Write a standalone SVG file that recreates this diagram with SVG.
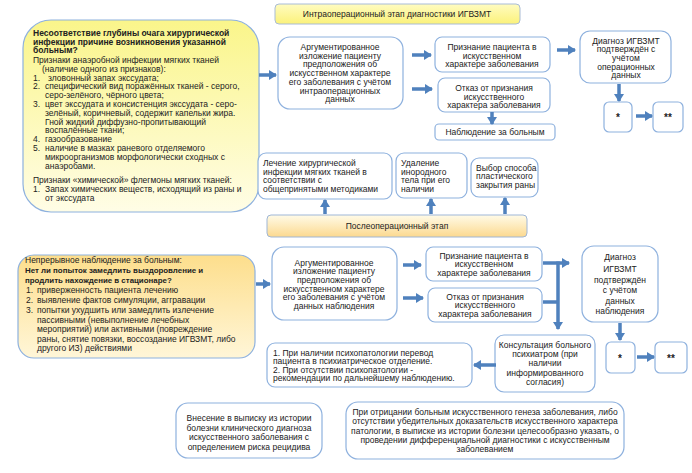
<svg xmlns="http://www.w3.org/2000/svg" width="692" height="473" viewBox="0 0 692 473">
<defs>
<linearGradient id="gY" x1="0" y1="0" x2="0" y2="1"><stop offset="0" stop-color="#faf58a"/><stop offset="1" stop-color="#fffde6"/></linearGradient>
<linearGradient id="gT" x1="0" y1="0" x2="0" y2="1"><stop offset="0" stop-color="#fffcc0"/><stop offset="1" stop-color="#fbf27a"/></linearGradient>
<linearGradient id="gO" x1="0" y1="0" x2="0" y2="1"><stop offset="0" stop-color="#fdde8c"/><stop offset="1" stop-color="#fff6d8"/></linearGradient>
<linearGradient id="gP" x1="0" y1="0" x2="0" y2="1"><stop offset="0" stop-color="#fffbe8"/><stop offset="1" stop-color="#fcd98f"/></linearGradient>
<marker id="ah" markerUnits="userSpaceOnUse" markerWidth="9" markerHeight="10" refX="7" refY="5" orient="auto"><path d="M0,0 L8,5 L0,10 z" fill="#4f81bd"/></marker>
</defs>
<style>
.b{fill:#fff;stroke:#8eb1de;stroke-width:1.2}
.t{font-family:"Liberation Sans",Arial,sans-serif;font-size:8.5px;fill:#222}
.c{text-anchor:middle}
.bd{font-weight:bold}
.st{font-size:10px;font-weight:bold}
.ar{stroke:#4f81bd;stroke-width:3.5;fill:none}
.ah{marker-end:url(#ah)}
</style>
<rect width="692" height="473" fill="#fff"/>

<g id="title1"><rect x="275" y="4" width="245" height="20" rx="4" fill="url(#gT)" stroke="#a9bcd6"/><text class="t c" x="397" y="17">Интраоперационный этап диагностики ИГВЗМТ</text></g>

<g id="box1"><rect x="23" y="20" width="236" height="192" rx="28" fill="url(#gY)" stroke="#8eb1de" stroke-width="1.2"/>
<text class="t bd" font-size="7.4"><tspan x="33" y="36">Несоответствие глубины очага хирургической</tspan><tspan x="33" y="44.5">инфекции причине возникновения указанной</tspan><tspan x="33" y="53">больным?</tspan></text>
<text class="t" font-size="8.8"><tspan x="33" y="63">Признаки анаэробной инфекции мягких тканей</tspan><tspan x="42" y="71.8">(наличие одного из признаков):</tspan>
<tspan x="33" y="80.6">1.</tspan><tspan x="48" y="80.6">зловонный запах экссудата;</tspan>
<tspan x="33" y="89.4">2.</tspan><tspan x="45" y="89.4">специфический вид поражённых тканей - серого,</tspan><tspan x="45" y="98.2">серо-зелёного, чёрного цвета;</tspan>
<tspan x="33" y="107">3.</tspan><tspan x="45" y="107">цвет экссудата и консистенция экссудата - серо-</tspan><tspan x="45" y="115.8">зелёный, коричневый, содержит капельки жира.</tspan><tspan x="45" y="124.6">Гной жидкий диффузно-пропитывающий</tspan><tspan x="45" y="133.4">воспалённые ткани;</tspan>
<tspan x="33" y="142.2">4.</tspan><tspan x="45" y="142.2">газообразование</tspan>
<tspan x="33" y="151">5.</tspan><tspan x="45" y="151">наличие в мазках раневого отделяемого</tspan><tspan x="45" y="159.8">микроорганизмов морфологически сходных с</tspan><tspan x="45" y="168.6">анаэробами.</tspan>
<tspan x="33" y="183">Признаки «химической» флегмоны мягких тканей:</tspan>
<tspan x="33" y="191.8">1.</tspan><tspan x="45" y="191.8">Запах химических веществ, исходящий из раны и</tspan><tspan x="45" y="200.6">от экссудата</tspan></text></g>

<g id="arg1"><rect class="b" x="278" y="37" width="125" height="72" rx="12"/><text class="t c"><tspan x="340" y="50">Аргументированное</tspan><tspan x="340" y="58.7">изложение пациенту</tspan><tspan x="340" y="67.4">предположения об</tspan><tspan x="340" y="76.1">искусственном характере</tspan><tspan x="340" y="84.8">его заболевания с учётом</tspan><tspan x="340" y="93.5">интраоперационных</tspan><tspan x="340" y="102.2">данных</tspan></text></g>

<g id="priz1"><rect class="b" x="435" y="37" width="115" height="35" rx="7"/><text class="t c"><tspan x="492" y="50">Признание пациента в</tspan><tspan x="492" y="58.7">искусственном</tspan><tspan x="492" y="67.4">характере заболевания</tspan></text></g>

<g id="otk1"><rect class="b" x="438" y="78" width="112" height="34" rx="7"/><text class="t c"><tspan x="494" y="91">Отказ от признания</tspan><tspan x="494" y="99.7">искусственного</tspan><tspan x="494" y="108.4">характера заболевания</tspan></text></g>

<g id="nabl"><rect class="b" x="435" y="124" width="120" height="16" rx="4"/><text class="t c" x="495" y="135">Наблюдение за больным</text></g>

<g id="diag1"><rect class="b" x="580" y="31" width="91" height="52" rx="10"/><text class="t c"><tspan x="626" y="43.5">Диагноз ИГВЗМТ</tspan><tspan x="626" y="52.2">подтверждён с</tspan><tspan x="626" y="60.9">учётом</tspan><tspan x="626" y="69.6">операционных</tspan><tspan x="626" y="78.3">данных</tspan></text></g>

<g id="star1"><rect class="b" x="604" y="102" width="28" height="30" rx="5"/><text class="t c st" x="618" y="121">*</text></g>
<g id="star1b"><rect class="b" x="653" y="102" width="30" height="30" rx="5"/><text class="t c st" x="668" y="121">**</text></g>

<g id="lech"><rect class="b" x="258" y="153" width="134" height="46" rx="8"/><text class="t"><tspan x="263" y="166">Лечение хирургической</tspan><tspan x="263" y="174.7">инфекции мягких тканей в</tspan><tspan x="263" y="183.4">соответствии с</tspan><tspan x="263" y="192.1">общепринятыми методиками</tspan></text></g>

<g id="udal"><rect class="b" x="396" y="153" width="71" height="45" rx="8"/><text class="t"><tspan x="401" y="166">Удаление</tspan><tspan x="401" y="174.7">инородного</tspan><tspan x="401" y="183.4">тела при его</tspan><tspan x="401" y="192.1">наличии</tspan></text></g>

<g id="vybor"><rect class="b" x="471" y="158" width="67" height="39" rx="8"/><text class="t"><tspan x="476" y="170.5">Выбор способа</tspan><tspan x="476" y="179.2">пластического</tspan><tspan x="476" y="187.9">закрытия раны</tspan></text></g>

<g id="title2"><rect x="267" y="215" width="260" height="22" rx="4" fill="url(#gP)" stroke="#9fb6d6"/><text class="t c" x="397" y="229">Послеоперационный этап</text></g>

<g id="box2"><rect x="18" y="255" width="237" height="103" rx="16" fill="url(#gO)" stroke="#8eb1de" stroke-width="1.2"/>
<text class="t" font-size="8.8"><tspan x="25" y="263">Непрерывное наблюдение за больным:</tspan>
<tspan x="25" y="273" font-weight="bold" font-size="7.9">Нет ли попыток замедлить выздоровление и</tspan><tspan x="25" y="282.5" font-weight="bold" font-size="7.9">продлить нахождение в стационаре?</tspan>
<tspan x="26" y="293">1.</tspan><tspan x="37" y="293">приверженность пациента лечению</tspan>
<tspan x="26" y="303">2.</tspan><tspan x="37" y="303">выявление фактов симуляции, аггравации</tspan>
<tspan x="26" y="313">3.</tspan><tspan x="37" y="313">попытки ухудшить или замедлить излечение</tspan><tspan x="37" y="322.5">пассивными (невыполнение лечебных</tspan><tspan x="37" y="332">мероприятий) или активными (повреждение</tspan><tspan x="37" y="341.5">раны, снятие повязки, воссоздание ИГВЗМТ, либо</tspan><tspan x="37" y="351">другого ИЗ) действиями</tspan></text></g>

<g id="arg2"><rect class="b" x="272" y="247" width="125" height="73" rx="12"/><text class="t c"><tspan x="334" y="265.5">Аргументированное</tspan><tspan x="334" y="274.2">изложение пациенту</tspan><tspan x="334" y="282.9">предположения об</tspan><tspan x="334" y="291.6">искусственном характере</tspan><tspan x="334" y="300.3">его заболевания с учётом</tspan><tspan x="334" y="309">данных наблюдения</tspan></text></g>

<g id="priz2"><rect class="b" x="426" y="247" width="116" height="34" rx="7"/><text class="t c"><tspan x="484" y="258.5">Признание пациента в</tspan><tspan x="484" y="267.2">искусственном</tspan><tspan x="484" y="275.9">характере заболевания</tspan></text></g>

<g id="otk2"><rect class="b" x="428" y="288" width="114" height="34" rx="7"/><text class="t c"><tspan x="485" y="299.5">Отказ от признания</tspan><tspan x="485" y="308.2">искусственного</tspan><tspan x="485" y="316.9">характера заболевания</tspan></text></g>

<g id="diag2"><rect class="b" x="582" y="246" width="76" height="76" rx="12"/><text class="t c"><tspan x="620" y="260">Диагноз</tspan><tspan x="620" y="272">ИГВЗМТ</tspan><tspan x="620" y="283">подтверждён</tspan><tspan x="620" y="293">с учётом</tspan><tspan x="620" y="304">данных</tspan><tspan x="620" y="314">наблюдения</tspan></text></g>

<g id="star2"><rect class="b" x="606" y="342" width="29" height="31" rx="5"/><text class="t c st" x="620" y="362">*</text></g>
<g id="star2b"><rect class="b" x="655" y="342" width="32" height="31" rx="5"/><text class="t c st" x="671" y="362">**</text></g>

<g id="kons"><rect class="b" x="495" y="335" width="100" height="57" rx="9"/><text class="t c"><tspan x="545" y="348">Консультация больного</tspan><tspan x="545" y="357">психиатром (при</tspan><tspan x="545" y="366">наличии</tspan><tspan x="545" y="375.5">информированного</tspan><tspan x="545" y="385">согласия)</tspan></text></g>

<g id="psych"><rect class="b" x="267" y="343" width="205" height="44" rx="8"/><text class="t" font-size="8"><tspan x="273" y="355.5">1. При наличии психопатологии перевод</tspan><tspan x="273" y="364">пациента в психиатрическое отделение.</tspan><tspan x="273" y="372.5">2. При отсутствии психопатологии -</tspan><tspan x="273" y="381">рекомендации по дальнейшему наблюдению.</tspan></text></g>

<g id="vnes"><rect class="b" x="176" y="403" width="146" height="55" rx="12"/><text class="t c"><tspan x="249" y="421">Внесение в выписку из истории</tspan><tspan x="249" y="430.5">болезни клинического диагноза</tspan><tspan x="249" y="440">искусственного заболевания с</tspan><tspan x="249" y="449.5">определением риска рецидива</tspan></text></g>

<g id="otric"><rect class="b" x="346" y="402" width="278" height="57" rx="12"/><text class="t c"><tspan x="485" y="415">При отрицании больным искусственного генеза заболевания, либо</tspan><tspan x="485" y="424.3">отсутствии убедительных доказательств искусственного характера</tspan><tspan x="485" y="433.6">патологии, в выписке из истории болезни целесообразно указать, о</tspan><tspan x="485" y="442.9">проведении дифференциальной диагностики с искусственным</tspan><tspan x="485" y="452.2">заболеванием</tspan></text></g>

<g id="connectors">
<line class="ar ah" x1="259" y1="75" x2="276" y2="75"/>
<line class="ar ah" x1="412" y1="55" x2="431" y2="55"/>
<line class="ar ah" x1="412" y1="89" x2="432" y2="89"/>
<line class="ar ah" x1="492" y1="112" x2="492" y2="124"/>
<line class="ar ah" x1="557" y1="50" x2="575" y2="50"/>
<line class="ar ah" x1="619" y1="84" x2="619" y2="101"/>
<line class="ar ah" x1="636" y1="116" x2="652" y2="116"/>
<line class="ar ah" x1="325" y1="214" x2="325" y2="200"/>
<line class="ar ah" x1="431" y1="214" x2="431" y2="199"/>
<line class="ar ah" x1="505" y1="214" x2="505" y2="198"/>
<line class="ar ah" x1="256" y1="284" x2="270" y2="284"/>
<line class="ar ah" x1="403" y1="265" x2="421" y2="265"/>
<line class="ar ah" x1="403" y1="298" x2="423" y2="298"/>
<line class="ar ah" x1="543" y1="263" x2="569" y2="263"/>
<line class="ar" x1="543" y1="302" x2="558" y2="302"/>
<line class="ar ah" x1="558" y1="261.5" x2="558" y2="329"/>
<line class="ar ah" x1="620" y1="323" x2="620" y2="340"/>
<line class="ar ah" x1="637" y1="357" x2="654" y2="357"/>
<line class="ar ah" x1="496" y1="365" x2="474" y2="365"/>
</g>
</svg>
